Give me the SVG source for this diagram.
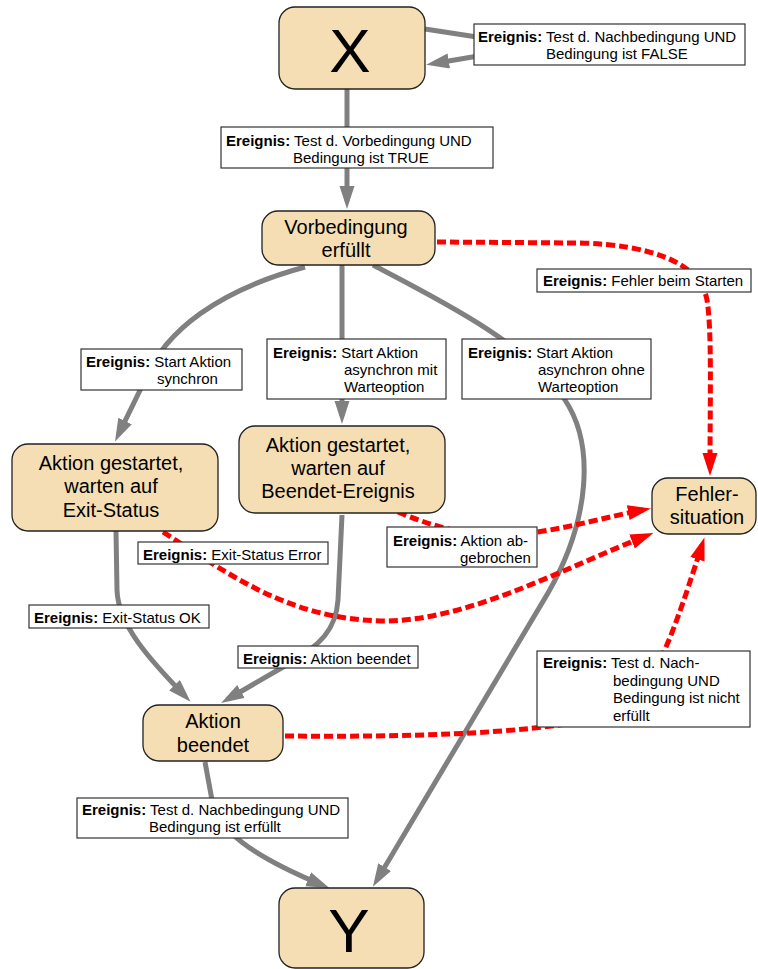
<svg xmlns="http://www.w3.org/2000/svg" width="758" height="969" viewBox="0 0 758 969">
<style>
  .node rect { fill: #f5deb3; stroke: #222; stroke-width: 1.3; }
  .ntext { font-family: "Liberation Sans", Arial, sans-serif; font-size: 20px; fill: #000; text-anchor: middle; }
  .big { font-family: "Liberation Sans", Arial, sans-serif; font-size: 62px; fill: #000; text-anchor: middle; }
  .g { fill: none; stroke: #808080; stroke-width: 5; }
  .r { fill: none; stroke: #ff0000; stroke-width: 5; stroke-dasharray: 9 4; }
  .lbox { fill: #fff; stroke: #333; stroke-width: 1.2; }
  .lbl { font-family: "Liberation Sans", Arial, sans-serif; font-size: 15px; fill: #000; }
  .b { font-weight: bold; }
</style>
<defs>
  <marker id="ag" markerUnits="userSpaceOnUse" markerWidth="24" markerHeight="16" refX="15" refY="7.5" orient="auto">
    <path d="M0,0 L23,7.5 L0,15 z" fill="#808080" stroke="none"/>
  </marker>
  <marker id="ar" markerUnits="userSpaceOnUse" markerWidth="24" markerHeight="16" refX="15" refY="7.5" orient="auto">
    <path d="M0,0 L23,7.5 L0,15 z" fill="#ff0000" stroke="none"/>
  </marker>
</defs>

<g id="connectors">
  <path class="g" d="M 425 29 L 490 39"/>
  <path class="g" d="M 490 54 L 434 63.5" marker-end="url(#ag)"/>
  <path class="g" d="M 347 89 L 347 201" marker-end="url(#ag)"/>
  <path class="g" d="M 305 267 C 220 290, 165 330, 145 380 L 118.5 434.4" marker-end="url(#ag)"/>
  <path class="g" d="M 342 265 L 342 416" marker-end="url(#ag)"/>
  <path class="g" d="M 373 265 C 440 300, 530 345, 565 400 C 595 445, 590 520, 548 593 L 377 880" marker-end="url(#ag)"/>
  <path class="g" d="M 116 531 L 117 590 C 118 625, 150 660, 185 696" marker-end="url(#ag)"/>
  <path class="g" d="M 342 515 L 338 600 C 336 630, 320 645, 290 663 L 228 699" marker-end="url(#ag)"/>
  <path class="g" d="M 205 762 L 212 800 C 218 830, 250 855, 322 885" marker-end="url(#ag)"/>
  <path class="r" d="M 437 242 L 580 243 C 650 245, 700 262, 707 300 C 712 330, 710 400, 710 468" marker-end="url(#ar)"/>
  <path class="r" d="M 398 512 C 430 525, 470 540, 530 533 C 570 528, 610 516, 643 510" marker-end="url(#ar)"/>
  <path class="r" d="M 163 532 C 230 575, 290 620, 385 621 C 470 620, 560 570, 646 536" marker-end="url(#ar)"/>
  <path class="r" d="M 285 736 C 400 737, 520 735, 600 718 C 650 700, 665 660, 702 545" marker-end="url(#ar)"/>
</g>

<g id="edge-labels">
  <g id="label-false">
    <rect class="lbox" x="474" y="24" width="271" height="41"/>
    <text class="lbl" x="478" y="42"><tspan class="b">Ereignis:</tspan> Test d. Nachbedingung UND</text>
    <text class="lbl" x="546" y="59">Bedingung ist FALSE</text>
  </g>
  <g id="label-true">
    <rect class="lbox" x="221" y="127" width="272" height="41"/>
    <text class="lbl" x="226" y="146"><tspan class="b">Ereignis:</tspan> Test d. Vorbedingung UND</text>
    <text class="lbl" x="293" y="163">Bedingung ist TRUE</text>
  </g>
  <g id="label-start-err">
    <rect class="lbox" x="537" y="269" width="214" height="23"/>
    <text class="lbl" x="543" y="286"><tspan class="b">Ereignis:</tspan> Fehler beim Starten</text>
  </g>
  <g id="label-sync">
    <rect class="lbox" x="81" y="349" width="161" height="41"/>
    <text class="lbl" x="86" y="367"><tspan class="b">Ereignis:</tspan> Start Aktion</text>
    <text class="lbl" x="157" y="384">synchron</text>
  </g>
  <g id="label-async-mit">
    <rect class="lbox" x="267" y="339" width="179" height="60"/>
    <text class="lbl" x="273" y="358"><tspan class="b">Ereignis:</tspan> Start Aktion</text>
    <text class="lbl" x="344" y="375">asynchron mit</text>
    <text class="lbl" x="344" y="392">Warteoption</text>
  </g>
  <g id="label-async-ohne">
    <rect class="lbox" x="462" y="339" width="189" height="60"/>
    <text class="lbl" x="468" y="358"><tspan class="b">Ereignis:</tspan> Start Aktion</text>
    <text class="lbl" x="538" y="375">asynchron ohne</text>
    <text class="lbl" x="538" y="392">Warteoption</text>
  </g>
  <g id="label-abgebrochen">
    <rect class="lbox" x="387" y="527" width="150" height="40"/>
    <text class="lbl" x="393" y="546"><tspan class="b">Ereignis:</tspan> Aktion ab-</text>
    <text class="lbl" x="460" y="563">gebrochen</text>
  </g>
  <g id="label-exit-error">
    <rect class="lbox" x="138" y="542" width="190" height="22"/>
    <text class="lbl" x="143" y="560"><tspan class="b">Ereignis:</tspan> Exit-Status Error</text>
  </g>
  <g id="label-exit-ok">
    <rect class="lbox" x="29" y="605" width="180" height="23"/>
    <text class="lbl" x="34" y="623"><tspan class="b">Ereignis:</tspan> Exit-Status OK</text>
  </g>
  <g id="label-beendet">
    <rect class="lbox" x="238" y="646" width="180" height="22"/>
    <text class="lbl" x="243" y="664"><tspan class="b">Ereignis:</tspan> Aktion beendet</text>
  </g>
  <g id="label-nicht-erfuellt">
    <rect class="lbox" x="537" y="651" width="213" height="76"/>
    <text class="lbl" x="543" y="668"><tspan class="b">Ereignis:</tspan> Test d. Nach-</text>
    <text class="lbl" x="613" y="685.5">bedingung UND</text>
    <text class="lbl" x="613" y="703">Bedingung ist nicht</text>
    <text class="lbl" x="613" y="720.5">erfüllt</text>
  </g>
  <g id="label-erfuellt">
    <rect class="lbox" x="77" y="798" width="271" height="40"/>
    <text class="lbl" x="82" y="815"><tspan class="b">Ereignis:</tspan> Test d. Nachbedingung UND</text>
    <text class="lbl" x="149" y="832">Bedingung ist erfüllt</text>
  </g>
</g>

<g id="node-X" class="node">
  <rect x="279" y="7" width="146" height="82" rx="16"/>
  <text class="big" x="350" y="72">X</text>
</g>
<g id="node-vorbedingung" class="node">
  <rect x="262" y="211" width="173" height="54" rx="16"/>
  <text class="ntext" x="346" y="234">Vorbedingung</text>
  <text class="ntext" x="346" y="257">erfüllt</text>
</g>
<g id="node-exit-status" class="node">
  <rect x="12" y="444" width="206" height="87" rx="16"/>
  <text class="ntext" x="111" y="470">Aktion gestartet,</text>
  <text class="ntext" x="111" y="493">warten auf</text>
  <text class="ntext" x="111" y="517">Exit-Status</text>
</g>
<g id="node-beendet-ereignis" class="node">
  <rect x="239" y="426" width="206" height="87" rx="16"/>
  <text class="ntext" x="338" y="452">Aktion gestartet,</text>
  <text class="ntext" x="338" y="475">warten auf</text>
  <text class="ntext" x="338" y="498">Beendet-Ereignis</text>
</g>
<g id="node-fehler" class="node">
  <rect x="652" y="478" width="104" height="56" rx="16"/>
  <text class="ntext" x="707" y="501">Fehler-</text>
  <text class="ntext" x="707" y="524">situation</text>
</g>
<g id="node-aktion-beendet" class="node">
  <rect x="143" y="705" width="140" height="56" rx="16"/>
  <text class="ntext" x="213" y="728">Aktion</text>
  <text class="ntext" x="213" y="752">beendet</text>
</g>
<g id="node-Y" class="node">
  <rect x="279" y="888" width="145" height="80" rx="16"/>
  <text class="big" x="349" y="952">Y</text>
</g>
</svg>
